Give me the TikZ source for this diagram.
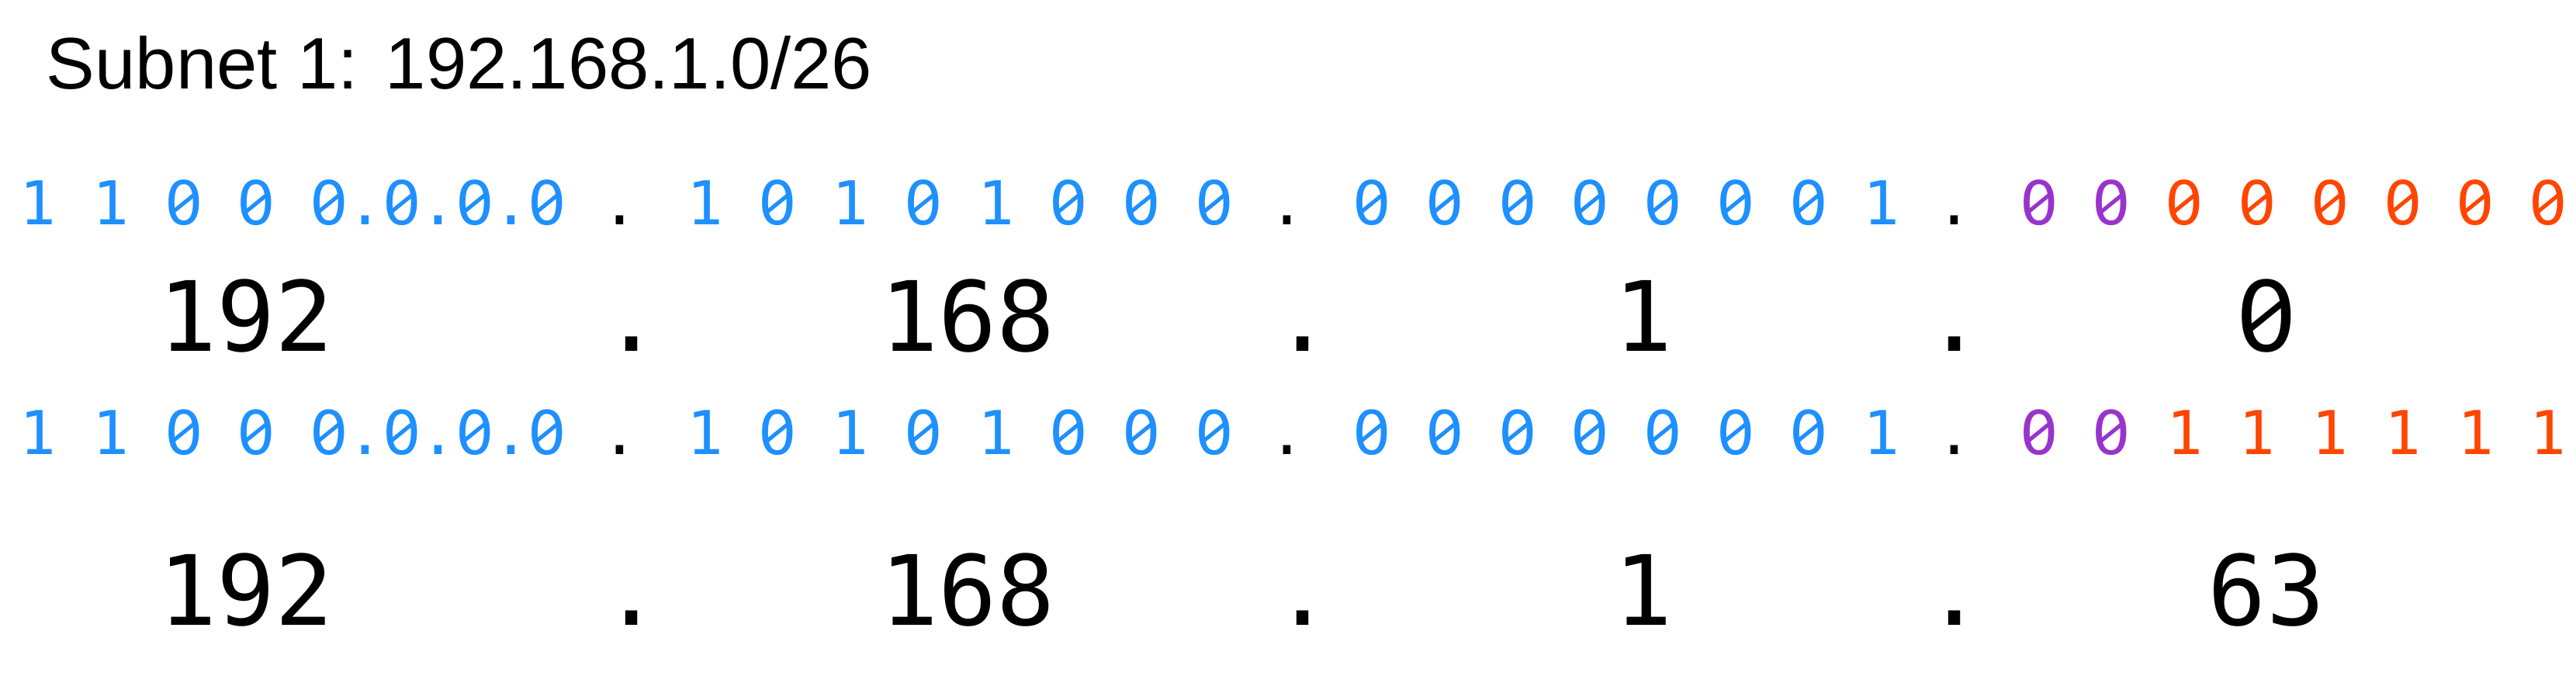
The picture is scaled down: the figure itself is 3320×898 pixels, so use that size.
\documentclass[tikz,border=0pt]{standalone}
\usepackage{fontspec}
\setmainfont{Liberation Sans}
\newfontfamily\binfont{DejaVu Sans Mono}
\newfontfamily\plainzero{DejaVu Sans}
\definecolor{netblue}{RGB}{30,144,255}
\definecolor{subpurple}{RGB}{153,51,204}
\definecolor{hostorange}{RGB}{255,69,0}
\newcommand{\nbit}[1]{\textcolor{netblue}{#1}}
\newcommand{\sbit}[1]{\textcolor{subpurple}{#1}}
\newcommand{\hbit}[1]{\textcolor{hostorange}{#1}}
% slashed zero in a mono cell
\newcommand{\z}{\makebox[0.602em][c]{\plainzero 0}\llap{\makebox[0.602em][c]{\raisebox{0.18em}{\rotatebox{39}{\rule{0.5em}{0.065em}}}}}}
\begin{document}
\begin{tikzpicture}[x=0.25pt,y=-0.25pt,
	bits/.style={anchor=base west,inner sep=0pt,font=\binfont\fontsize{19.47}{20}\selectfont},
	dec/.style={anchor=base,inner sep=0pt,font=\binfont\fontsize{31.25}{32}\selectfont}]
	\useasboundingbox (0,0) rectangle (3320,898);
	\def\xbits{25} \def\ybitsA{290} \def\ybitsB{585}
	\def\ydecA{452} \def\ydecB{805}
	
	\node (title) at (59,115) [anchor=base west,inner sep=0pt,font=\fontsize{23.5}{24}\selectfont]{Subnet 1: 192.168.1.0/26};
	
	% network address
	\node (netbits) at (\xbits,\ybitsA) [bits]{\nbit{1 1 \z{} \z{} \z.\z.\z.\z} . \nbit{1 \z{} 1 \z{} 1 \z{} \z{} \z} . \nbit{\z{} \z{} \z{} \z{} \z{} \z{} \z{} 1} . \sbit{\z{} \z} \hbit{\z{} \z{} \z{} \z{} \z{} \z}};
	\foreach \x/\val [count=\i] in {317/192,814/.,1247/168,1679/.,2118/1,2519/.,2921/\z}
	\node (netdec\i) at (\x,\ydecA) [dec]{\val};
	
	% broadcast address
	\node (bcbits) at (\xbits,\ybitsB) [bits]{\nbit{1 1 \z{} \z{} \z.\z.\z.\z} . \nbit{1 \z{} 1 \z{} 1 \z{} \z{} \z} . \nbit{\z{} \z{} \z{} \z{} \z{} \z{} \z{} 1} . \sbit{\z{} \z} \hbit{1 1 1 1 1 1}};
	\foreach \x/\val [count=\i] in {317/192,814/.,1247/168,1679/.,2118/1,2519/.,2921/63}
	\node (bcdec\i) at (\x,\ydecB) [dec]{\val};
\end{tikzpicture}
\end{document}
